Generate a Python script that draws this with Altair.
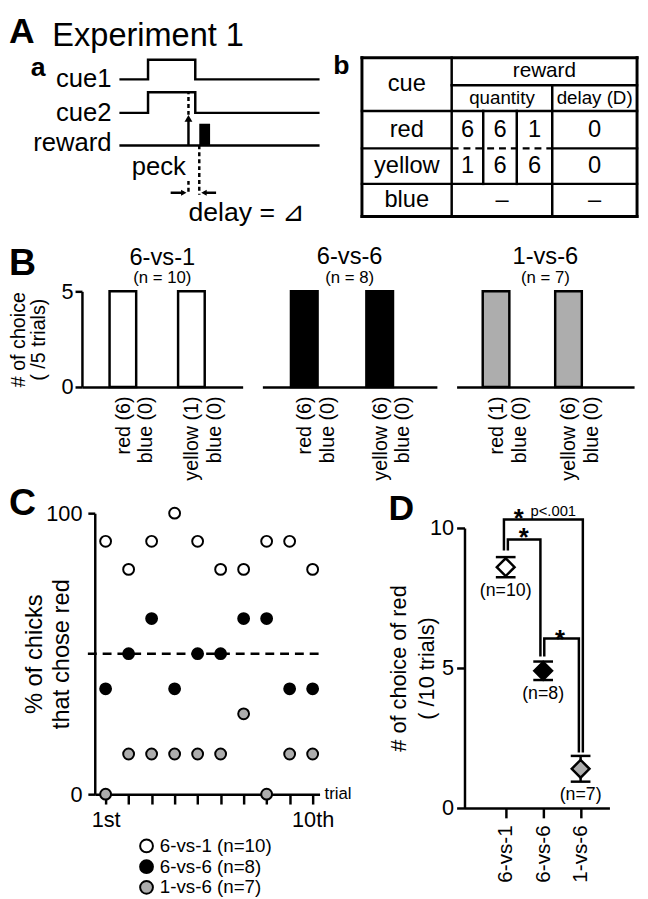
import altair as alt
import pandas as pd

FONT = "Liberation Sans"
GRAY = "#adadad"
LW = 2.5

# ======================= DATA =======================
# Panel A-a : timing of one trial (time / level in diagram units, level 0 = top)
SIGNALS = ["cue1", "cue2", "reward"]
SIG_BASE = [2.2, 5.6, 8.9]
SIG_HIGH = [0.2, 3.5, 6.7]
CUE_ON, CUE_OFF = 14.3, 37.9
PECK_T = 34.5
REWARD_ON, REWARD_OFF = 39.9, 45.3
T_END = 100.0

# Panel A-b : reward table
CUES = ["red", "yellow", "blue"]
QTY_RED = ["6", "6", "1"]
QTY_YELLOW = ["1", "6", "6"]
DELAY_D = ["0", "0", "\u2013"]

# Panel B : choice test (5 trials)
B_GROUPS = ["6-vs-1", "6-vs-6", "1-vs-6"]
B_N = [10, 8, 7]
B_CHOICES = [["red (6)|blue (0)", "yellow (1)|blue (0)"],
             ["red (6)|blue (0)", "yellow (6)|blue (0)"],
             ["red (1)|blue (0)", "yellow (6)|blue (0)"]]
B_COUNTS = [[5, 5], [5, 5], [5, 5]]
B_FILLS = ["white", "black", GRAY]

# Panel C : % of chicks that chose red, per trial
TRIALS = list(range(1, 11))
C_GROUPS = ["6-vs-1 (n=10)", "6-vs-6 (n=8)", "1-vs-6 (n=7)"]
C_6V1 = [90, 80, 90, 100, 90, 80, 80, 90, 90, 80]
C_6V6 = [37.5, 50, 62.5, 37.5, 50, 50, 62.5, 62.5, 37.5, 37.5]
C_1V6 = [0, 14.3, 14.3, 14.3, 14.3, 14.3, 28.6, 0, 14.3, 14.3]
C_FILLS = ["white", "black", GRAY]

# Panel D : mean +- sem choices of red (10 trials)
D_GROUPS = ["6-vs-1", "6-vs-6", "1-vs-6"]
D_MEAN = [8.6, 4.9, 1.4]
D_SEM = [0.36, 0.33, 0.46]
D_N = ["(n=10)", "(n=8)", "(n=7)"]
D_FILLS = ["white", "black", GRAY]

# ======================= LAYOUT (grid of 3 columns, flush) =======================
COL_W = [163, 177, 180]
ROW1_H, B_H, ROW3_H = 106, 97, 285
R1_SHIFT = -3
B_BAND = [dict(paddingInner=0.597, paddingOuter=0.471, align=0.42),
          dict(paddingInner=0.634, paddingOuter=0.474, align=0.393),
          dict(paddingInner=0.619, paddingOuter=0.534, align=0.331)]

one = pd.DataFrame({"k": [0]})


def pix_text(text, x, y, size, weight="bold", baseline="alphabetic"):
    return alt.Chart(one).mark_text(text=text, fontSize=size, fontWeight=weight,
                                    align="left", baseline=baseline, color="black"
                                    ).encode(x=alt.value(x), y=alt.value(y))


def filler():
    return alt.Chart(one).mark_point(opacity=0).encode(
        x=alt.value(0), y=alt.value(0)).properties(width=1, height=1)


# ---------------- A-a schematic (cell origin = page 82,55) ----------------
sx = alt.Scale(domain=[0, T_END], range=[38, 241], nice=False, zero=False)
sy = alt.Scale(domain=[0, 16.1], range=[R1_SHIFT, 161 + R1_SHIFT], nice=False, zero=False)


def SX(f):
    return alt.X(f, type="quantitative", scale=sx, axis=None)


def SY(f):
    return alt.Y(f, type="quantitative", scale=sy, axis=None)


rows = []
for name, b, h in zip(SIGNALS[:2], SIG_BASE[:2], SIG_HIGH[:2]):
    pts = [(0, b), (CUE_ON, b), (CUE_ON, h), (CUE_OFF, h), (CUE_OFF, b), (T_END, b)]
    rows += [dict(sig=name, o=i, t=t, y=y) for i, (t, y) in enumerate(pts)]
rows += [dict(sig="reward", o=0, t=0, y=SIG_BASE[2]),
         dict(sig="reward", o=1, t=T_END, y=SIG_BASE[2])]
trace = pd.DataFrame(rows)

s_lines = alt.Chart(trace).mark_line(color="black", strokeWidth=LW, strokeJoin="miter").encode(
    x=SX("t"), y=SY("y"), detail="sig:N", order="o:Q")
s_block = alt.Chart(pd.DataFrame({"t": [REWARD_ON], "t2": [REWARD_OFF],
                                  "y": [SIG_HIGH[2]], "y2": [SIG_BASE[2]]})).mark_rect(
    color="black").encode(x=SX("t"), x2="t2", y=SY("y"), y2="y2")

PECK_TIP, ARROW_Y = 5.8, 13.7
solid = pd.DataFrame({"t": [PECK_T, 25.6, 42.2], "t2": [PECK_T, 32.2, 48.3],
                      "y": [SIG_BASE[2], ARROW_Y, ARROW_Y], "y2": [6.4, ARROW_Y, ARROW_Y]})
dashed = pd.DataFrame({"t": [PECK_T, PECK_T, REWARD_ON], "t2": [PECK_T, PECK_T, REWARD_ON],
                       "y": [PECK_TIP, 12.5, SIG_BASE[2]], "y2": [SIG_HIGH[1], 13.9, 13.9]})
heads = pd.DataFrame({"t": [PECK_T, 32.15, 42.25], "y": [6.15, ARROW_Y, ARROW_Y],
                      "shape": ["triangle-up", "triangle-right", "triangle-left"],
                      "size": [64, 40, 40]})
s_solid = alt.Chart(solid).mark_rule(color="black", strokeWidth=LW).encode(
    x=SX("t"), x2="t2", y=SY("y"), y2="y2")
s_dash = alt.Chart(dashed).mark_rule(color="black", strokeWidth=LW, strokeDash=[4, 3]).encode(
    x=SX("t"), x2="t2", y=SY("y"), y2="y2")
s_heads = alt.Chart(heads).mark_point(filled=True, color="black", opacity=1).encode(
    x=SX("t"), y=SY("y"), shape=alt.Shape("shape:N", scale=None),
    size=alt.Size("size:Q", scale=None))
s_labels = alt.Chart(pd.DataFrame({"txt": SIGNALS, "t": [-3.9] * 3,
                                   "y": [SIG_BASE[0], SIG_BASE[1], 8.7]})).mark_text(
    align="right", baseline="middle", fontSize=26, color="black").encode(
    x=SX("t"), y=SY("y"), text="txt:N")
s_peck = alt.Chart(pd.DataFrame({"txt": ["peck"], "t": [19.7], "y": [11.1]})).mark_text(
    align="center", baseline="middle", fontSize=26, color="black").encode(
    x=SX("t"), y=SY("y"), text="txt:N")
s_delay = alt.Chart(pd.DataFrame({"txt": ["delay = \u22bf"], "t": [34.5], "y": [15.8]})).mark_text(
    align="left", baseline="middle", fontSize=27, color="black").encode(
    x=SX("t"), y=SY("y"), text="txt:N")
# invisible guide fixing the top-left corner of the figure
anchor = alt.Chart(one).mark_rule(strokeOpacity=0).encode(
    x=alt.value(-74), y=alt.value(-47), y2=alt.value(-46))
schem = alt.layer(anchor, s_lines, s_block, s_solid, s_dash, s_heads, s_labels, s_peck, s_delay,
                  pix_text("A", -74, -42.6 + R1_SHIFT, 36, baseline="top"),
                  pix_text("Experiment 1", -30, -37.4 + R1_SHIFT, 33, "normal", baseline="top"),
                  pix_text("a", -52, 19 + R1_SHIFT, 27),
                  pix_text("B", -74, 217, 38),
                  pix_text("C", -74, 461, 38),
                  pix_text("D", 311, 466, 36)).properties(width=COL_W[0], height=ROW1_H)

# ---------------- A-b table (cell origin = page 265,55) ----------------
TX = [0, 91, 123, 157, 193, 279]
TY = [0, 28, 54, 92, 128, 161]
tx = alt.Scale(domain=[0, 279], range=[101, 380], nice=False, zero=False)
ty = alt.Scale(domain=[0, 161], range=[R1_SHIFT, 161 + R1_SHIFT], nice=False, zero=False)


def TXE(f):
    return alt.X(f, type="quantitative", scale=tx, axis=None)


def TYE(f):
    return alt.Y(f, type="quantitative", scale=ty, axis=None)


grid = [  # x, x2, y, y2, width
    (TX[0], TX[5], TY[0], TY[0], 3), (TX[0], TX[5], TY[5], TY[5], 3),
    (TX[0], TX[0], TY[0], TY[5], 3), (TX[5], TX[5], TY[0], TY[5], 3),
    (TX[1], TX[5], TY[1], TY[1], LW), (TX[0], TX[5], TY[2], TY[2], LW),
    (TX[0], TX[1], TY[3], TY[3], LW), (TX[4], TX[5], TY[3], TY[3], LW),
    (TX[0], TX[5], TY[4], TY[4], LW), (TX[1], TX[1], TY[0], TY[5], LW),
    (TX[4], TX[4], TY[1], TY[5], LW), (TX[2], TX[2], TY[2], TY[4], LW),
    (TX[3], TX[3], TY[2], TY[4], LW)]
gdf = pd.DataFrame(grid, columns=["x", "x2", "y", "y2", "w"])
t_grid = alt.Chart(gdf).mark_rule(color="black", strokeCap="square").encode(
    x=TXE("x"), x2="x2", y=TYE("y"), y2="y2", strokeWidth=alt.StrokeWidth("w:Q", scale=None))
t_dash = alt.Chart(pd.DataFrame({"x": [TX[1]], "x2": [TX[4]], "y": [TY[3]], "y2": [TY[3]]})).mark_rule(
    color="black", strokeWidth=LW, strokeDash=[7, 5]).encode(x=TXE("x"), x2="x2", y=TYE("y"), y2="y2")


def mid(a, b):
    return (a + b) / 2


cells = [("cue", mid(TX[0], TX[1]), mid(TY[0], TY[2]), 24),
         ("reward", mid(TX[1], TX[5]), mid(TY[0], TY[1]), 21),
         ("quantity", mid(TX[1], TX[4]), mid(TY[1], TY[2]), 19),
         ("delay (D)", mid(TX[4], TX[5]), mid(TY[1], TY[2]), 19)]
for r, cue in enumerate(CUES):
    cells.append((cue, mid(TX[0], TX[1]), mid(TY[2 + r], TY[3 + r]), 24))
for k in range(3):
    cells.append((QTY_RED[k], mid(TX[1 + k], TX[2 + k]), mid(TY[2], TY[3]), 24))
    cells.append((QTY_YELLOW[k], mid(TX[1 + k], TX[2 + k]), mid(TY[3], TY[4]), 24))
for r in range(3):
    cells.append((DELAY_D[r], mid(TX[4], TX[5]), mid(TY[2 + r], TY[3 + r]), 24))
cells.append(("\u2013", mid(TX[1], TX[4]), mid(TY[4], TY[5]), 24))
cdf = pd.DataFrame(cells, columns=["txt", "x", "y", "s"])
t_text = alt.Chart(cdf).mark_text(baseline="middle", align="center", color="black").encode(
    x=TXE("x"), y=TYE("y"), text="txt:N", size=alt.Size("s:Q", scale=None))
table = alt.layer(t_grid, t_dash, t_text, pix_text("b", 72, 17 + R1_SHIFT, 27)).properties(
    width=COL_W[1], height=ROW1_H)


# ---------------- B bar panels ----------------
def bar_panel(i):
    df = pd.DataFrame({"choice": B_CHOICES[i], "count": B_COUNTS[i]})
    xaxis = alt.Axis(title=None, domain=True, domainWidth=LW, ticks=False, tickSize=0,
                     labelAngle=270, labelExpr="split(datum.label, '|')", labelFontSize=20,
                     labelLineHeight=23, labelPadding=9, labelOffset=1)
    if i == 0:
        yaxis = alt.Axis(values=[0, 5], title=["# of choice", "( /5 trials)"], titleFontSize=20,
                         titleLineHeight=20, titleAngle=270, titleAlign="center",
                         titleBaseline="bottom", minExtent=28, maxExtent=28, titlePadding=6,
                         domainWidth=LW, tickWidth=LW, tickSize=7, labelFontSize=22,
                         labelPadding=2)
    else:
        yaxis = None
    bars = alt.Chart(df).mark_bar(size=27, fill=B_FILLS[i], stroke="black", strokeWidth=LW).encode(
        x=alt.X("choice:N", sort=None, scale=alt.Scale(**B_BAND[i]), axis=xaxis),
        y=alt.Y("count:Q", scale=alt.Scale(domain=[0, 5], nice=False), axis=yaxis))
    return bars.properties(
        width=COL_W[i], height=B_H,
        title=alt.TitleParams(text=B_GROUPS[i], subtitle=f"(n = {B_N[i]})", fontSize=24,
                              subtitleFontSize=17, fontWeight="normal", anchor="middle",
                              frame="group", offset=(-6 if i == 0 else 4), subtitlePadding=1,
                              color="black", subtitleColor="black"))


# ---------------- C scatter (cell origin = page 82,514) ----------------
cx = alt.Scale(domain=[0.5286, 10.301], range=[13, 241], nice=False, zero=False)
cy = alt.Scale(domain=[0, 100], nice=False, zero=False)
C_XAXIS = alt.Axis(values=TRIALS, labelExpr="datum.value == 1 ? '1st' : datum.value == 10 ? '10th' : ''",
                   domainWidth=LW, tickSize=10, tickWidth=LW, labelFontSize=22,
                   labelPadding=6, title=None, labelFlush=False, labelOverlap=False)
C_YAXIS = alt.Axis(values=[0, 100], offset=-13, domainWidth=LW, tickWidth=LW, tickSize=7,
                   labelFontSize=22, labelPadding=6, title=["% of chicks", "that chose red"],
                   titleFontSize=24, titleLineHeight=27, titleAngle=270, titleAlign="center",
                   titleBaseline="bottom", minExtent=16, maxExtent=16, titlePadding=6)


def CX(f):
    return alt.X(f, type="quantitative", scale=cx, axis=C_XAXIS)


def CY(f):
    return alt.Y(f, type="quantitative", scale=cy, axis=C_YAXIS)


c_rows = []
for g, vals in zip(C_GROUPS, [C_6V1, C_6V6, C_1V6]):
    c_rows += [dict(group=g, trial=t, pct=v) for t, v in zip(TRIALS, vals)]
cdf_pts = pd.DataFrame(c_rows)
c_chance = alt.Chart(pd.DataFrame({"x": [0.229], "x2": [10.301], "y": [50]})).mark_rule(
    color="black", strokeWidth=LW, strokeDash=[9, 6]).encode(x=CX("x"), x2="x2", y=CY("y"))
c_pts = alt.Chart(cdf_pts).mark_point(filled=True, size=121, stroke="black", strokeWidth=2,
                                      opacity=1).encode(
    x=CX("trial"), y=CY("pct"),
    fill=alt.Fill("group:N", scale=alt.Scale(domain=C_GROUPS, range=C_FILLS),
                  legend=alt.Legend(title=None, orient="none", legendX=56, legendY=328,
                                    labelFontSize=19, symbolSize=169, symbolStrokeWidth=2,
                                    symbolStrokeColor="black", symbolType="circle",
                                    rowPadding=0, labelOffset=4, padding=0,
                                    labelColor="black", symbolOpacity=1)))
c_trial = alt.Chart(pd.DataFrame({"x": [10.301], "y": [0], "txt": ["trial"]})).mark_text(
    align="left", baseline="middle", dx=5, fontSize=17, color="black").encode(
    x=CX("x"), y=CY("y"), text="txt:N")
panel_c = alt.layer(c_chance, c_pts, c_trial).properties(width=COL_W[0], height=ROW3_H)

# ---------------- D means (cell origin = page 462,514) ----------------
dx = alt.Scale(domain=[-0.1, 3.77], range=[8, 155], nice=False, zero=False)
dy = alt.Scale(domain=[0, 10], range=[299, 15], nice=False, zero=False)
D_XAXIS = alt.Axis(values=[1, 2, 3], labelExpr="['6-vs-1','6-vs-6','1-vs-6'][datum.value - 1]",
                   domainWidth=LW, tickWidth=LW, tickSize=10, labelAngle=270, labelFontSize=21,
                   labelPadding=7, title=None, labelFlush=False)
D_YAXIS = alt.Axis(values=[0, 5, 10], offset=-8, domainWidth=LW, tickWidth=LW, tickSize=8,
                   labelFontSize=22, labelPadding=3,
                   title=["# of choice of red", "( /10 trials)"],
                   titleFontSize=22, titleLineHeight=29, titleAngle=270, titleAlign="center",
                   titleBaseline="bottom", minExtent=20, maxExtent=20, titlePadding=6)


def DXE(f):
    return alt.X(f, type="quantitative", scale=dx, axis=D_XAXIS)


def DYE(f):
    return alt.Y(f, type="quantitative", scale=dy, axis=D_YAXIS)


ddf = pd.DataFrame({"pos": [1, 2, 3], "group": D_GROUPS, "mean": D_MEAN, "sem": D_SEM,
                    "n": D_N, "fill": D_FILLS})
ddf["lo"] = ddf["mean"] - ddf["sem"]
ddf["hi"] = ddf["mean"] + ddf["sem"]
BRACKETS = {"1-3": [(0.953, 9.2), (0.953, 10.3), (3.06, 10.3), (3.06, 1.98)],
            "1-2": [(1.058, 9.2), (1.058, 9.59), (1.927, 9.59), (1.927, 5.41)],
            "2-3": [(2.03, 5.41), (2.03, 6.05), (2.954, 6.05), (2.954, 1.98)]}
br_rows = []
for k, pts in BRACKETS.items():
    br_rows += [dict(b=k, o=i, x=x, y=y) for i, (x, y) in enumerate(pts)]
d_br = alt.Chart(pd.DataFrame(br_rows)).mark_line(color="black", strokeWidth=LW,
                                                   strokeJoin="miter").encode(
    x=DXE("x"), y=DYE("y"), detail="b:N", order="o:Q")
d_err = alt.Chart(ddf).mark_rule(color="black", strokeWidth=LW).encode(
    x=DXE("pos"), y=DYE("lo"), y2="hi")
d_caps_lo = alt.Chart(ddf).mark_tick(orient="horizontal", size=20, thickness=LW,
                                     color="black", opacity=1).encode(x=DXE("pos"), y=DYE("lo"))
d_caps_hi = alt.Chart(ddf).mark_tick(orient="horizontal", size=20, thickness=LW,
                                     color="black", opacity=1).encode(x=DXE("pos"), y=DYE("hi"))
d_dia = alt.Chart(ddf).mark_point(shape="diamond", filled=True, size=324, stroke="black",
                                  strokeWidth=LW, opacity=1).encode(
    x=DXE("pos"), y=DYE("mean"), fill=alt.Fill("fill:N", scale=None))
d_n = alt.Chart(ddf).mark_text(baseline="middle", align="center", dy=14, fontSize=18,
                               color="black").encode(x=DXE("pos"), y=DYE("lo"), text="n:N")
stars = pd.DataFrame({"x": [1.48, 2.45, 1.35], "y": [9.34, 5.73, 10.05], "txt": ["*", "*", "*"]})
d_stars = alt.Chart(stars).mark_text(baseline="alphabetic", align="center", fontSize=26,
                                     fontWeight="bold", color="black").encode(
    x=DXE("x"), y=DYE("y"), text="txt:N")
d_p = alt.Chart(pd.DataFrame({"x": [2.27], "y": [10.62], "txt": ["p<.001"]})).mark_text(
    baseline="middle", align="center", fontSize=15, color="black").encode(
    x=DXE("x"), y=DYE("y"), text="txt:N")
panel_d = alt.layer(d_br, d_err, d_caps_lo, d_caps_hi, d_dia, d_n, d_stars, d_p).properties(
    width=155, height=299)

# ---------------- assemble ----------------
chart = alt.concat(schem, table, filler(),
                   bar_panel(0), bar_panel(1), bar_panel(2),
                   panel_c, filler(), panel_d,
                   columns=3, spacing={"row": 128, "column": 20}, bounds="flush", align="each"
                   ).resolve_scale(fill="independent").resolve_legend(fill="independent").properties(
    padding=0, background="white").configure(font=FONT).configure_view(strokeWidth=0).configure_axis(
    labelFont=FONT, titleFont=FONT, labelColor="black", titleColor="black",
    domainColor="black", tickColor="black", titleFontWeight="normal", grid=False
).configure_legend(labelFont=FONT)

chart.save("out.html", embed_options={"renderer": "svg", "actions": False})
